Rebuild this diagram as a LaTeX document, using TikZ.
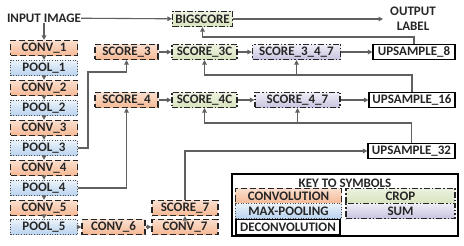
\documentclass[tikz,border=0pt]{standalone}
\usepackage{fontspec}
\setmainfont{Carlito}
\usetikzlibrary{arrows.meta,shadings}
\definecolor{txt}{HTML}{262626}
\definecolor{ln}{HTML}{606060}
\definecolor{convc}{HTML}{F5B894}
\definecolor{poolc}{HTML}{B9D3EE}
\definecolor{cropc}{HTML}{D8E4BF}
\definecolor{sumc}{HTML}{C9C3E0}
\tikzset{
  base/.style={font=\fontsize{13}{13}\selectfont\bfseries, text=txt, inner sep=0pt, minimum height=15pt, line width=1.1pt, draw=black!85},
  conv/.style={base, top color=convc!45, bottom color=convc, dash pattern=on 6pt off 3pt},
  pool/.style={base, top color=poolc!30, bottom color=poolc, draw=black!70, dash pattern=on 1pt off 1.6pt},
  crop/.style={base, top color=cropc!50, bottom color=cropc, dash pattern=on 6pt off 2pt on 1.5pt off 2pt},
  sumb/.style={base, top color=sumc!30, bottom color=sumc, dash pattern=on 6pt off 2pt on 1.5pt off 2pt on 1.5pt off 2pt},
  deconv/.style={base, fill=white, draw=black},
  lbl/.style={font=\fontsize{13}{13}\selectfont\bfseries, text=txt, inner sep=0pt},
  conn/.style={draw=ln, line width=1.1pt, -{Triangle[length=4.5pt,width=4.5pt]}},
  plain/.style={draw=ln, line width=1.1pt},
}
\begin{document}
\begin{tikzpicture}[x=1pt,y=-1pt]
\useasboundingbox (0,0) rectangle (464,246);
% left column
\node[lbl] (in) at (44,18) {INPUT IMAGE};
\node[conv, minimum width=67pt] (c1) at (44,48) {CONV\_1};
\node[pool, minimum width=67pt] (p1) at (44,68) {POOL\_1};
\node[conv, minimum width=67pt] (c2) at (44,88) {CONV\_2};
\node[pool, minimum width=67pt] (p2) at (44,108) {POOL\_2};
\node[conv, minimum width=67pt] (c3) at (44,128) {CONV\_3};
\node[pool, minimum width=67pt] (p3) at (44,148) {POOL\_3};
\node[conv, minimum width=67pt] (c4) at (44,168) {CONV\_4};
\node[pool, minimum width=67pt] (p4) at (44,188) {POOL\_4};
\node[conv, minimum width=67pt] (c5) at (44,208) {CONV\_5};
\node[pool, minimum width=67pt] (p5) at (44,227) {POOL\_5};
\node[conv, minimum width=63pt] (c6) at (113.5,227) {CONV\_6};
\node[conv, minimum width=66pt] (c7) at (185,227) {CONV\_7};
\node[conv, minimum width=66pt] (s7) at (185,208) {SCORE\_7};
% score rows
\node[crop, minimum width=60pt] (big) at (202.5,19) {BIGSCORE};
\node[lbl, align=center, font=\fontsize{13}{15}\selectfont\bfseries] (out) at (413,19) {OUTPUT\\LABEL};
\node[conv, minimum width=63pt] (s3) at (126.5,52) {SCORE\_3};
\node[crop, minimum width=65pt] (s3c) at (204.5,52) {SCORE\_3C};
\node[sumb, minimum width=88pt] (s347) at (296.5,52) {SCORE\_3\_4\_7};
\node[deconv, minimum width=82pt] (u8) at (414,52) {UPSAMPLE\_8};
\node[conv, minimum width=63pt] (s4) at (126.5,100) {SCORE\_4};
\node[crop, minimum width=65pt] (s4c) at (204.5,100) {SCORE\_4C};
\node[sumb, minimum width=85pt] (s47) at (297.5,100) {SCORE\_4\_7};
\node[deconv, minimum width=86pt] (u16) at (412,100) {UPSAMPLE\_16};
\node[deconv, minimum width=87pt] (u32) at (411.5,151) {UPSAMPLE\_32};
% key
\node[draw=black, line width=1.2pt, fill=white, minimum width=226pt, minimum height=62pt, inner sep=0pt] (key) at (345,205) {};
\node[lbl] (kt) at (345,183) {KEY TO SYMBOLS};
\node[conv, minimum width=106pt] (kconv) at (288.5,196) {CONVOLUTION};
\node[crop, minimum width=109pt] (kcrop) at (400.5,196) {CROP};
\node[pool, minimum width=106pt] (kpool) at (288.5,211) {MAX-POOLING};
\node[sumb, minimum width=109pt] (ksum) at (400.5,211) {SUM};
\node[deconv, minimum width=104pt] (kdec) at (288,227) {DECONVOLUTION};
% connectors
\draw[conn] (in) -- (c1);
\foreach \a/\b in {c1/p1,p1/c2,c2/p2,p2/c3,c3/p3,p3/c4,c4/p4,p4/c5,c5/p5}{\draw[conn] (\a) -- (\b);}
\draw[conn] (p5) -- (c6);
\draw[conn] (c6) -- (c7);
\draw[conn] (c7) -- (s7);
\draw[conn] (in) -- (big);
\coordinate (outarr) at (383,19);
\draw[conn] (big) -- (outarr);
\draw[conn] (p3.east) -- (88,148) -- (88,72) -| (s3.south);
\draw[conn] (p4.east) -| (s4.south);
\draw[conn] (s3) -- (s3c);
\draw[conn] (s3c) -- (s347);
\draw[conn] (s347) -- (u8);
\draw[conn] (s4) -- (s4c);
\draw[conn] (s4c) -- (s47);
\draw[conn] (s47) -- (u16);
\draw[conn] (u8.north) |- (202.5,37) -- (big.south);
\draw[conn] (u16.north) |- (204.5,75) -- (s3c.south);
\draw[conn] (s347.south |- 0,75) -- (s347.south);
\draw[conn] (u32.north) |- (204.5,123) -- (s4c.south);
\draw[conn] (s47.south |- 0,123) -- (s47.south);
\draw[conn] (s7.north) |- (u32.west);
\end{tikzpicture}
\end{document}
